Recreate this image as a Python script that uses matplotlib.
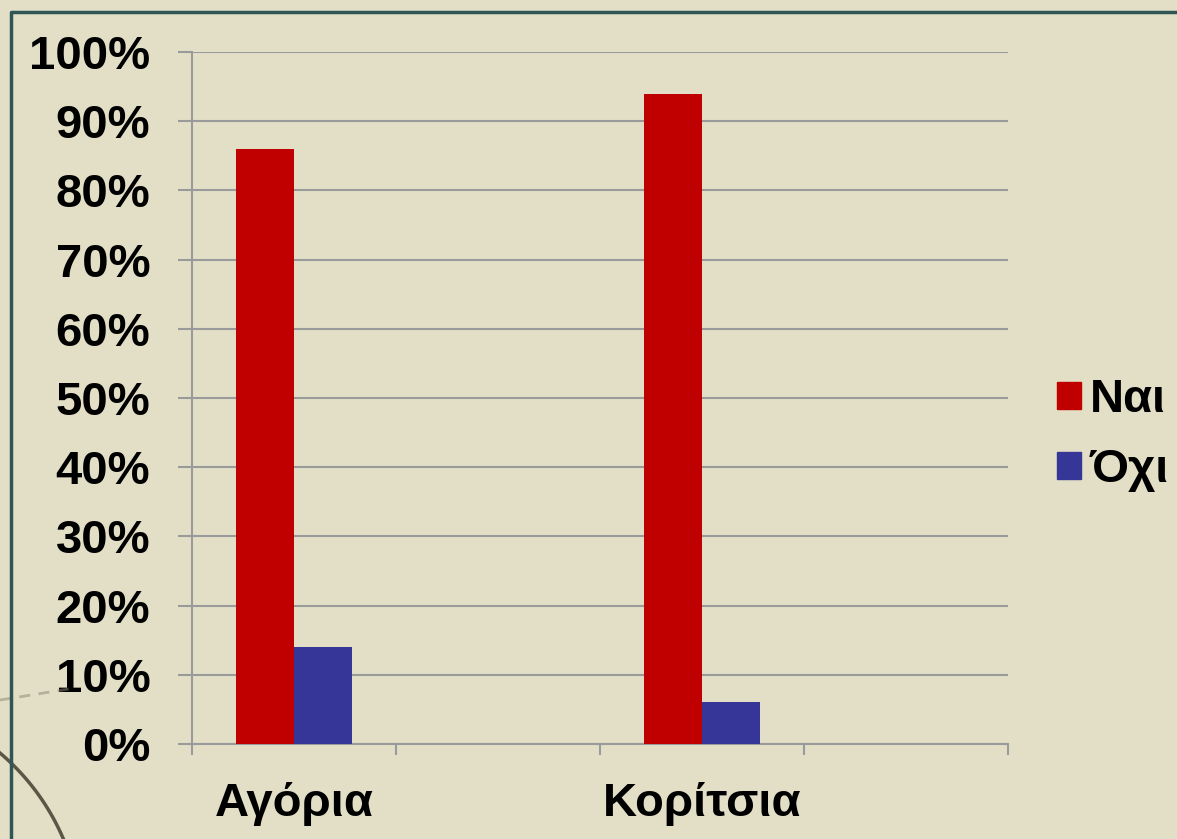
import matplotlib
matplotlib.use("Agg")
import matplotlib.pyplot as plt
from matplotlib.lines import Line2D
from matplotlib.patches import Patch
import numpy as np

plt.rcParams['font.family'] = ['Liberation Sans', 'DejaVu Sans']
plt.rcParams['font.weight'] = 'bold'

# data
categories = ["Αγόρια", "Κορίτσια"]
series = ["Ναι", "Όχι"]
nai = [86, 94]
oxi = [14, 6]
yticks = [0, 10, 20, 30, 40, 50, 60, 70, 80, 90, 100]

W, H = 1177, 839
bg = '#e2dfc6'
red = '#c00000'
blue = '#363699'
grey = '#9a9a9a'


def px(x, y):
    return x / W, 1 - y / H


fig = plt.figure(figsize=(W / 100, H / 100), dpi=100, facecolor=bg)

# decoration: arc of the background picture at the lower left and the frame
t = np.radians(np.linspace(-65, -15, 100))
cx, cy, r = -150, 930, 232
ax_pts = [px(cx + r * np.cos(a), cy + r * np.sin(a)) for a in t]
fig.add_artist(Line2D([p[0] for p in ax_pts], [p[1] for p in ax_pts],
                      transform=fig.transFigure, color='#3a3428', lw=2.5, alpha=0.8))
x0, y0 = px(0, 700)
x1, y1 = px(75, 688)
fig.add_artist(Line2D([x0, x1], [y0, y1], transform=fig.transFigure,
                      color='#8a8576', lw=2, ls=(0, (4, 3)), alpha=0.5))

fx0, fy0 = px(11, 12)
fx1, fy1 = px(W + 5, H + 5)
fig.add_artist(Line2D([fx0, fx0, fx1], [fy1, fy0, fy0], transform=fig.transFigure,
                      color='#2f5555', lw=2.5))

ax = fig.add_axes([192 / W, 1 - 744 / H, 816 / W, 692 / H])
ax.set_facecolor(bg)

x = np.arange(len(categories)) * 2
w = 0.285
ax.bar(x - w / 2, nai, w, color=red, zorder=3)
ax.bar(x + w / 2, oxi, w, color=blue, zorder=3)

ax.set_ylim(0, 100)
ax.set_xlim(-0.5, 3.5)
ax.set_yticks(yticks)
ax.set_yticklabels([f'{v}%' for v in yticks])
ax.yaxis.grid(True, color=grey, lw=1.5, zorder=0)
ax.set_axisbelow(True)

ax.set_xticks(np.arange(-0.5, 4, 1))
ax.set_xticklabels([])
ax.set_xticks(x, minor=True)
ax.set_xticklabels(categories, minor=True)
ax.tick_params(axis='x', which='major', length=8, width=1.5, color=grey)
ax.tick_params(axis='x', which='minor', length=0, pad=27, labelsize=34)
ax.tick_params(axis='y', length=10, width=1.5, color=grey, pad=20, labelsize=34)

for s in ['top', 'right']:
    ax.spines[s].set_visible(False)
for s in ['left', 'bottom']:
    ax.spines[s].set_color(grey)
    ax.spines[s].set_linewidth(1.5)

handles = [Patch(color=red, label=series[0]), Patch(color=blue, label=series[1])]
fig.legend(handles=handles, loc='upper left', bbox_to_anchor=px(1057, 378),
           frameon=False, fontsize=34, handlelength=0.5, handleheight=0.5,
           handletextpad=0.2, labelspacing=0.55, borderaxespad=0, borderpad=0)

fig.savefig('out.png', dpi=100, facecolor=bg)
